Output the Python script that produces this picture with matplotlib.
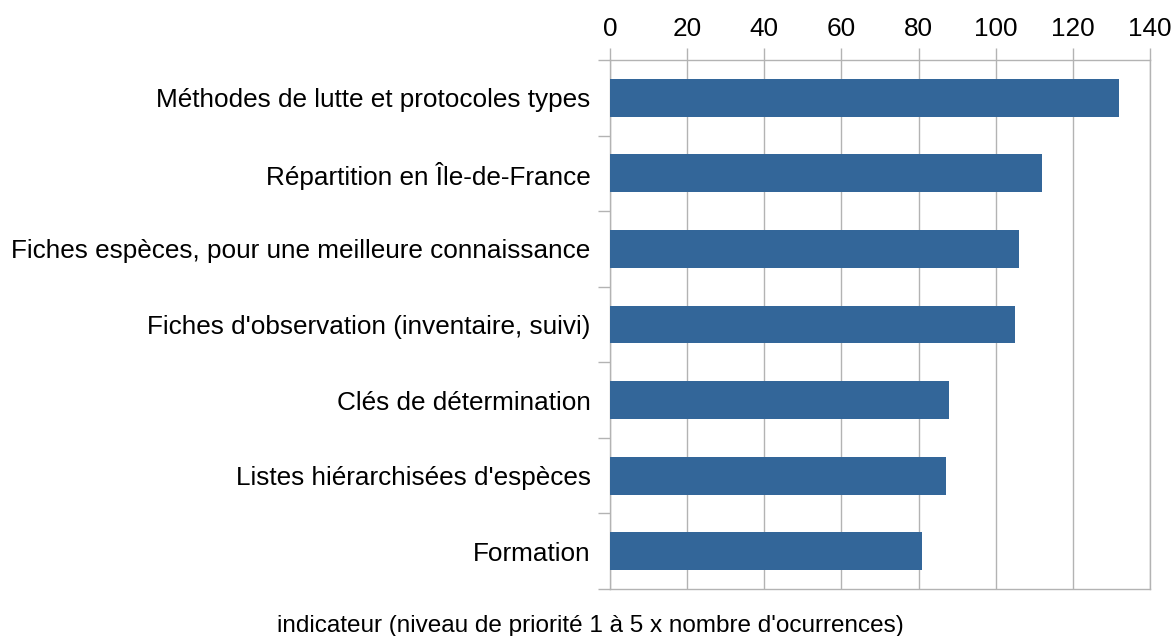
import matplotlib
matplotlib.use("Agg")
import matplotlib.pyplot as plt

categories = [
    "Méthodes de lutte et protocoles types",
    "Répartition en Île-de-France",
    "Fiches espèces, pour une meilleure connaissance",
    "Fiches d'observation (inventaire, suivi)",
    "Clés de détermination",
    "Listes hiérarchisées d'espèces",
    "Formation",
]
values = [132, 112, 106, 105, 88, 87, 81]
x_ticks = [0, 20, 40, 60, 80, 100, 120, 140]
x_label = "indicateur (niveau de priorité 1 à 5 x nombre d'ocurrences)"

plt.rcParams["font.family"] = ["Liberation Sans", "DejaVu Sans"]

fig = plt.figure(figsize=(11.75, 6.36), dpi=100)
ax = fig.add_axes([610 / 1175, 1 - 589 / 636, 540 / 1175, 529 / 636])

ypos = list(range(len(categories)))
ax.barh(ypos, values, height=0.5, color="#336699", zorder=3)
ax.set_ylim(len(categories) - 0.5, -0.5)
ax.set_xlim(0, 140)

ax.xaxis.tick_top()
ax.set_xticks(x_ticks)
ax.set_xticklabels([str(t) for t in x_ticks], fontsize=18.8)
ax.tick_params(axis="x", length=9, width=1, color="#b3b3b3", pad=5)

# category labels in the middle, ticks at the boundaries
ax.set_yticks(ypos)
ax.set_yticklabels(categories, fontsize=18.8)
ax.tick_params(axis="y", which="major", length=0, pad=14)
ax.set_yticks([i - 0.5 for i in range(len(categories) + 1)], minor=True)
ax.tick_params(axis="y", which="minor", length=9, width=1, color="#b3b3b3")

ax.grid(axis="x", color="#b3b3b3", linewidth=1, zorder=0)
for side in ["top", "bottom", "left", "right"]:
    ax.spines[side].set_color("#b3b3b3")
    ax.spines[side].set_linewidth(1)

fig.text(590 / 1175, 1 - 626 / 636, x_label, fontsize=17.5, ha="center", va="center")

fig.savefig("out.png", dpi=100)
